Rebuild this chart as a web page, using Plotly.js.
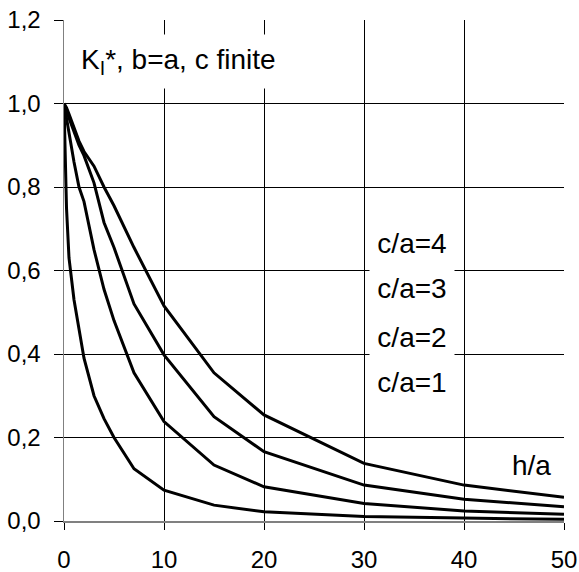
<!DOCTYPE html>
<html>
<head>
<meta charset="utf-8">
<script src="https://cdn.plot.ly/plotly-3.0.1.min.js"></script>
<style>html,body{margin:0;padding:0;background:#fff;}#chart{width:579px;height:572px;}</style>
</head>
<body>
<div id="chart"></div>
<script>
const hOverA = [0, 0.25, 0.5, 1, 1.5, 2, 3, 4, 5, 7, 10, 15, 20, 30, 40, 50];
const kC1 = [1.0, 0.75, 0.63, 0.53, 0.46, 0.39, 0.30, 0.245, 0.20, 0.125, 0.074, 0.038, 0.022, 0.011, 0.007, 0.004];
const kC2 = [1.0, 0.96, 0.93, 0.86, 0.80, 0.765, 0.65, 0.555, 0.48, 0.355, 0.238, 0.134, 0.082, 0.042, 0.024, 0.016];
const kC3 = [1.0, 0.985, 0.965, 0.93, 0.90, 0.875, 0.81, 0.715, 0.655, 0.52, 0.398, 0.25, 0.166, 0.086, 0.052, 0.034];
const kC4 = [1.0, 0.99, 0.975, 0.94, 0.91, 0.885, 0.85, 0.80, 0.755, 0.655, 0.515, 0.355, 0.254, 0.138, 0.086, 0.057];
const seriesNames = ['c/a=1', 'c/a=2', 'c/a=3', 'c/a=4'];
const xTicks = [0, 10, 20, 30, 40, 50];
const yTicks = [0, 0.2, 0.4, 0.6, 0.8, 1.0, 1.2];

const allY = [kC1, kC2, kC3, kC4];
const traces = allY.map((ys, i) => ({
  x: hOverA, y: ys, name: seriesNames[i], type: 'scatter', mode: 'lines',
  line: {color: '#000', width: 3}, hoverinfo: 'skip'
}));

const F = 'Liberation Sans, Arial, sans-serif';
const labelY = [0.333, 0.441, 0.558, 0.666];
const annotations = [
  {x: 1.6, y: 1.1, xref: 'x', yref: 'y', xanchor: 'left', yanchor: 'middle',
   text: 'K<sub>I</sub>*, b=a, c finite', showarrow: false,
   font: {family: F, size: 28, color: '#000'}, bgcolor: '#fff', height: 53, borderpad: 0}
].concat(seriesNames.map((n, i) => ({
  x: 34.8, y: labelY[i], xref: 'x', yref: 'y', xanchor: 'center', yanchor: 'middle',
  text: n, showarrow: false, font: {family: F, size: 28, color: '#000'},
  bgcolor: '#fff', width: 84, height: 46, borderpad: 0
}))).concat([
  {x: 46.7, y: 0.132, xref: 'x', yref: 'y', xanchor: 'center', yanchor: 'middle',
   text: 'h/a', showarrow: false, font: {family: F, size: 28, color: '#000'}, bgcolor: '#fff'}
]);

const layout = {
  width: 579, height: 572,
  margin: {l: 64, r: 15, t: 20, b: 51},
  paper_bgcolor: '#fff', plot_bgcolor: '#fff',
  showlegend: false,
  separators: ',.',
  font: {family: F, size: 24, color: '#000'},
  xaxis: {
    range: [0, 50], tickvals: xTicks, ticktext: xTicks.map(String),
    showgrid: true, gridcolor: '#000', gridwidth: 1,
    zeroline: false, showline: true, linecolor: '#808080', linewidth: 1.5,
    ticks: 'outside', ticklen: 7, tickcolor: '#000', tickwidth: 1,
    ticklabelstandoff: 10, tickfont: {family: F, size: 24, color: '#000'}, fixedrange: true
  },
  yaxis: {
    range: [0, 1.2], tickvals: yTicks, tickformat: '.1f',
    showgrid: true, gridcolor: '#000', gridwidth: 1,
    zeroline: false, showline: true, linecolor: '#808080', linewidth: 1.5,
    ticks: 'outside', ticklen: 9, tickcolor: '#000', tickwidth: 1,
    ticklabelstandoff: 8, tickfont: {family: F, size: 24, color: '#000'}, fixedrange: true
  },
  annotations: annotations
};

Plotly.newPlot('chart', traces, layout, {displayModeBar: false, staticPlot: true});
</script>
</body>
</html>
